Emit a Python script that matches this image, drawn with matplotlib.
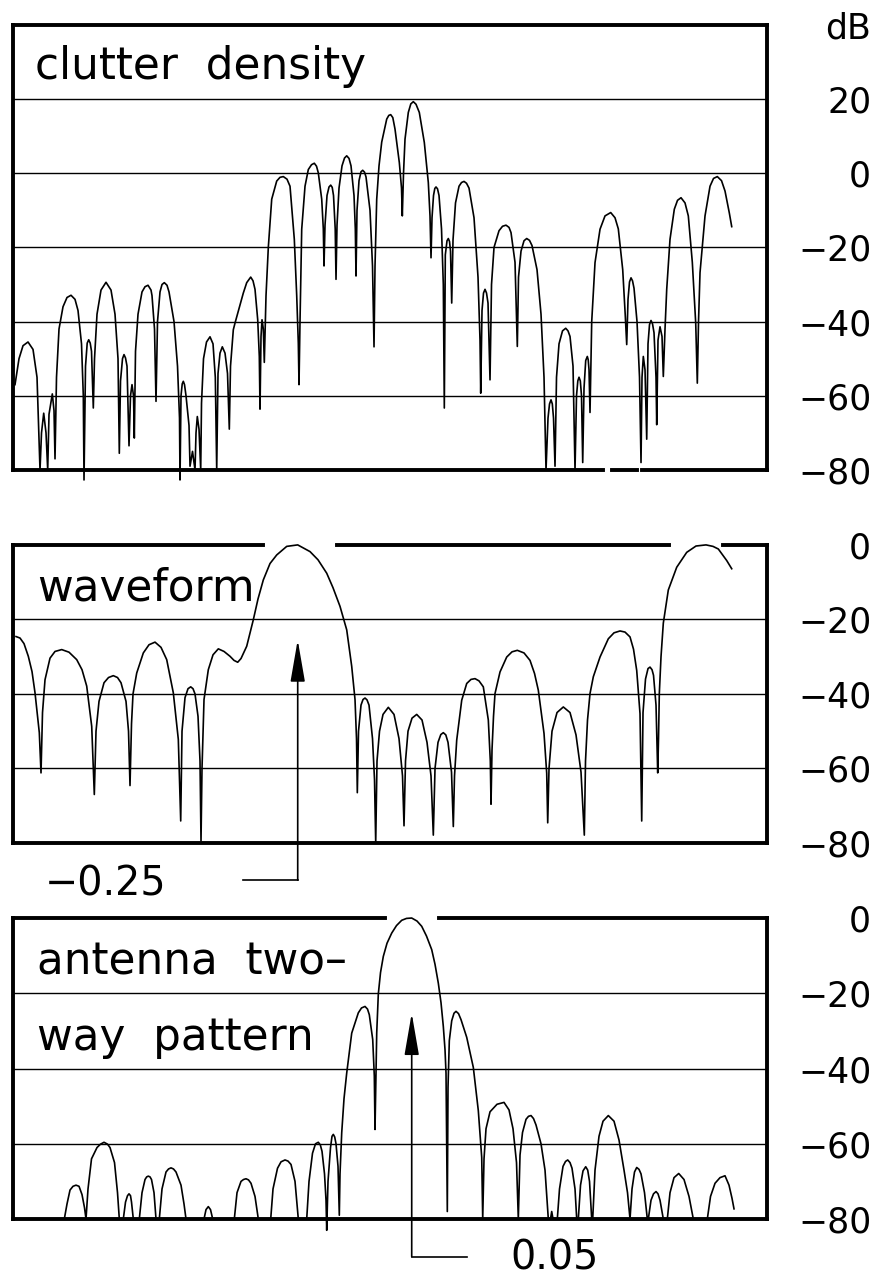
import matplotlib
matplotlib.use("Agg")
import matplotlib.pyplot as plt
import numpy as np

# traces: (doppler bin, dB)
clutter_trace = [
    (2, -57), (6, -50), (10, -46.5), (15, -45.5), (20, -47.5), (24, -55), (27, -80),
    (28.5, -70), (30.7, -64.7), (33, -70), (34.7, -80),
    (36, -65), (39.3, -59.5), (41, -64), (42, -77),
    (43.5, -55), (46, -42), (50, -36), (54, -33.5), (58, -32.9), (62, -34), (65, -37), (68.5, -46), (70.3, -60), (71, -82.7),
    (72.5, -52), (74.2, -45.8), (75.7, -44.9), (77.2, -45.8), (78.5, -48), (80.3, -63.3),
    (81.5, -50), (84, -38), (88, -31.5), (93, -29.4), (98, -31.5), (102, -38), (105, -50), (106.3, -75.5),
    (107.5, -56), (109.5, -50), (111, -48.9), (112.5, -49.8), (114, -52), (116, -73.5),
    (117.5, -60), (119, -57), (120.5, -60), (121.3, -71.4),
    (122.5, -48), (125, -38), (129, -32), (132, -30.6), (135, -30.2), (138, -31.5), (139, -33), (141.5, -42), (143, -61.5),
    (144.5, -40), (147, -32), (149, -30), (151.3, -29.5), (154, -30.2), (156, -32), (161, -40), (164.5, -52), (166.5, -66), (167, -82.7),
    (168, -60), (169.2, -56.8), (170.3, -56.1), (171.5, -57), (173, -60), (176, -68), (177, -79),
    (179.5, -75), (182, -80),
    (183, -70), (184.3, -65.6), (186, -69), (187.7, -80),
    (188.5, -62), (190.5, -50), (193.5, -45.5), (197, -44.1), (200, -46), (202.3, -55), (203.7, -80),
    (205, -54), (207, -48.5), (209.3, -46.8), (212, -48.5), (214.5, -54), (216.3, -69),
    (217.5, -52), (220.3, -42.2), (222, -40.4), (226, -36.5), (230.3, -32.3), (233.7, -29.5),
    (237.7, -28), (240, -29), (242, -31.3), (244.7, -39.5), (246.3, -49.4), (247, -63.6),
    (248, -44), (249, -39.5), (250.3, -42), (251.3, -51),
    (253, -33), (255.3, -20), (258.7, -7), (263.7, -2.1), (267, -1.1), (270.3, -0.9), (274, -1.6), (277, -3.5),
    (281.3, -17.8), (283.7, -33), (285.3, -45.8), (286, -57),
    (287, -40), (288.7, -15.1), (292, -3.5), (295.3, 1.0), (298.5, 2.3), (301.3, 2.7), (303.5, 1.9), (305.3, 0.1),
    (308.7, -7), (310.3, -15), (311, -25),
    (312, -14), (314, -6), (316, -3.7), (317.7, -3.2), (319.2, -3.8), (320.5, -6), (322.2, -15), (323, -28.6),
    (324, -14), (326, -4), (329, 2), (331.5, 4.1), (333.7, 4.7), (336, 4), (338, 2), (341, -6), (342.3, -15), (343, -27.7),
    (344, -10), (346, -2), (348, 0.4), (349.7, 0.8), (351.5, 0.3), (353, -1), (357, -10), (359.5, -25), (361, -46.8),
    (362, -25), (363.7, -7), (366, 2), (368.7, 8.4), (373.7, 14.6), (375.8, 15.6), (377.7, 15.8), (379.8, 15),
    (382, 11.9), (386.3, 2.9), (388.5, -4), (389.3, -11.5),
    (390.5, 0), (392, 9.2), (395.3, 16.4), (397.8, 18.7), (400.3, 19.3), (403, 18.6), (406.3, 16.4), (411.3, 8.3),
    (415.3, -2.5), (417, -11.5), (418, -22.8),
    (419, -12), (420.5, -6), (421.8, -4.1), (423, -3.7), (424.5, -4.2), (426, -6), (428.5, -15), (430.3, -30), (431.3, -63.3),
    (432.3, -22), (434, -18.2), (435.3, -17.6), (436.5, -18.4), (437.5, -21), (438.7, -35),
    (440, -18), (442.5, -8), (446, -3.5), (448.5, -2.5), (451, -2.2), (453.5, -2.7), (456, -4), (461, -12), (465, -28),
    (467, -45), (467.7, -59.3),
    (469, -37), (470.5, -32.3), (472, -31.3), (473.5, -32.3), (475, -35), (477, -55.7),
    (478.5, -30), (481, -20), (486, -15.5), (489.5, -14.3), (493, -14), (496, -14.6), (498, -16), (502, -24), (504.3, -46.7),
    (505.5, -28), (508, -21), (511, -18.2), (513.7, -17.6), (516.5, -18.1), (519, -19.5), (524, -26), (528, -38), (531, -55), (533, -80),
    (535, -66), (536.5, -62.2), (538, -61.1), (539.3, -62.2), (540.5, -66), (542, -79),
    (543.5, -55), (546, -46), (549.5, -42.5), (552.7, -41.8), (555, -42.5), (557, -44), (560, -52), (562, -80),
    (563.5, -60), (564.8, -56), (566, -55), (567.3, -56), (568.5, -60), (569.7, -78),
    (571, -58), (572.7, -50.5), (574.3, -49.4), (575.2, -50.3), (576, -53), (577, -64.5),
    (578.7, -40), (582, -24.1), (587, -15.1), (592, -11.5), (597.7, -10.6), (602, -12),
    (605.3, -15), (609.7, -26), (612.3, -38.6), (613.7, -46.2),
    (615, -34), (616.5, -29.3), (618, -28.2), (619.5, -29), (621, -31), (624, -40), (626.5, -55), (628, -78),
    (629, -55), (630.3, -49.4), (632, -53), (633.7, -71.7),
    (635, -46), (636.5, -40.8), (638, -39.7), (639.5, -40.6), (641, -43), (643, -55), (643.7, -67.8),
    (645, -45), (647, -41.4), (649, -44), (650.3, -54.8),
    (652, -42), (653.7, -31.3), (657, -17.8), (661.3, -9.7), (664.5, -7.3), (668, -6.6), (672, -8),
    (675.3, -11.5), (679.3, -24), (682.7, -40.4), (684.3, -56.6),
    (685.5, -40), (687, -26.8), (692, -11.5), (697, -3.5), (700.5, -1.4), (704.3, -0.9), (708.5, -2),
    (712, -4.8), (716.3, -10.7), (718.7, -14.4),
]

waveform_trace = [
    (3, -24.6), (7, -25), (11, -26.5), (15.3, -29.9), (19, -34), (22, -39.7), (26.3, -50.4), (28, -61.2),
    (29.5, -45), (32, -36.2), (37, -30.4), (42, -28.6), (48.7, -28.1), (56, -28.8), (63.7, -30.8),
    (69, -33.5), (73.7, -37.9), (78.7, -48.7), (81.3, -67),
    (83, -50), (86, -42), (91, -37), (95.5, -35.6), (100.3, -35.1), (104.5, -35.6), (108, -37), (113, -42), (115.5, -50), (117, -64.6),
    (118.5, -48), (120, -40), (123.7, -34.4), (130.3, -29), (136, -26.8), (142, -26.1), (148, -27.5),
    (153.7, -30.8), (160.3, -39.7), (165.3, -52.2), (167.7, -74.1),
    (169, -50), (172, -41), (175, -38.6), (177.7, -38.1), (180, -38.6), (182, -40), (185, -46), (187, -58), (188, -79.5),
    (189, -60), (191, -41.5), (195.3, -33.5), (200, -29.5), (205.3, -27.9), (211, -28.6), (217, -29.9),
    (221, -31), (224.7, -31.5),
    (228, -30.5), (233.7, -27.2), (240.3, -20.1), (245, -14.5), (250.3, -9.4), (257, -5), (263.7, -2.7),
    (273.7, -0.4), (284.7, 0), (297, -1.8), (305, -4), (313.7, -7.6), (320, -11.5), (327, -16.5),
    (333.7, -22.8), (338.7, -32.6), (342, -41.5), (343.5, -52), (344.3, -66.5),
    (345.5, -50), (348, -43), (350, -41.5), (352, -41.1), (354, -41.6), (356, -43), (359.5, -52), (361.5, -63), (362.7, -80),
    (364, -58), (366.5, -50), (370, -45.5), (375.3, -43.6), (381, -45.5), (386, -52), (389.5, -62), (391, -75.4),
    (392.5, -58), (395, -50), (399, -46.5), (403.7, -45.5), (409, -47), (414, -53), (418, -62), (420.3, -77.9),
    (422, -60), (425, -53), (427.8, -50.9), (430.3, -50.4), (432.8, -51), (435, -53), (438.5, -61), (440.3, -75.6),
    (441.5, -62), (443.7, -52.4), (448.7, -41.7), (453.7, -37.2), (458, -36.1), (462, -35.9), (466, -36.5),
    (470.3, -38.1), (475.3, -47), (477.3, -58), (478, -69.6),
    (479, -55), (480.5, -46), (482, -39.9), (487, -34.1), (493.7, -30.1), (499, -28.7), (504.3, -28.3), (511, -29),
    (517, -31), (521.5, -34.5), (525.3, -39), (531, -50.6), (533.7, -61.3), (534.7, -74.6),
    (536, -60), (539, -50), (544, -45), (550.3, -43.5), (557, -45), (563, -51), (568, -61), (571.3, -77.9),
    (572.5, -58), (574.5, -47), (577, -39.9), (580.3, -35.4), (587, -30.1), (595.3, -25.2), (601, -23.6),
    (607, -23.1), (612, -23.4), (617, -24.7), (620.5, -28), (623.7, -33.7), (627, -45.3), (628.7, -74.1),
    (630, -45), (632.5, -36), (635, -33.2), (637, -32.8), (639, -33.5), (640.5, -35), (643, -43), (644.7, -61.2),
    (645.5, -52), (646.3, -39.9), (648, -30), (650.3, -21), (655.3, -12.1), (663.7, -6), (673.7, -2),
    (683, -0.3), (693, 0), (700, -0.4), (705.3, -1.1), (713.7, -4.2), (718.7, -6.4),
]

antenna_trace = [
    (51.3, -80), (54, -76), (57, -72.3), (60, -71.3), (63, -71), (66, -71.3), (69, -73.5), (71.5, -77), (73, -80),
    (75, -72), (78.5, -64), (84, -61), (87.5, -60.1), (91, -59.6), (94.5, -60.1), (97, -61), (101.5, -65), (104.5, -73), (106.3, -80),
    (110.3, -80), (112.5, -75.5), (114.5, -73.8), (116, -73.3), (117.5, -73.8), (118.5, -75.5), (120.3, -80),
    (126.3, -80), (129, -73), (132, -69.5), (133.7, -68.8), (135.3, -68.6), (137, -68.8), (138.5, -69.5), (141, -73), (143, -80),
    (146.3, -80), (149, -72), (153, -67.5), (155.5, -66.7), (158, -66.4), (160.5, -66.7), (163, -67.5), (168, -71), (171, -76), (173, -80),
    (191, -80), (193, -77.5), (195.3, -76.7), (197.5, -77.5), (199.7, -80),
    (221.3, -80), (224, -73), (228, -70), (230.5, -69.5), (233, -69.3), (235.5, -69.6), (238, -70.5), (242, -74), (245.3, -80),
    (257.7, -80), (260, -72), (264.5, -66.5), (268, -64.8), (272, -64.3), (275, -64.6), (278, -65.5), (282, -70), (285.3, -80),
    (293.7, -80), (296, -70), (299.5, -62.5), (302.5, -60), (305.3, -59.6), (307.3, -60.3), (309, -62), (311.5, -68), (313, -75), (313.7, -83),
    (315, -70), (317.5, -61), (319, -58), (320.3, -57.5), (321.7, -58.2), (323, -60), (325, -66), (326.3, -79),
    (327, -68), (328.7, -57.1), (331, -48), (333.7, -41.2), (338.7, -30.6), (345.3, -25.2), (348.5, -23.9), (352, -23.5),
    (354.5, -24.2), (356.3, -25.7), (359.7, -32.3), (361.3, -42), (362, -56.2),
    (363.7, -30.6), (365.3, -20.2), (367.5, -14.5), (370.3, -10.2), (374, -6.7), (378.7, -4), (383.5, -2),
    (388.7, -0.6), (393.5, -0.1), (398.7, 0), (404, -0.8), (408.7, -2.2), (413.5, -4.8), (418.7, -8.4), (422, -12.3),
    (425.3, -17.3), (428, -22.5), (430.3, -28.8), (432, -35), (433, -41.2), (434.3, -78),
    (435, -45), (436.3, -32.6), (438.7, -27.3), (441, -25.3), (443, -24.8), (445.5, -25.4), (448, -27), (453.7, -31.7), (460.3, -39.7),
    (465.3, -51.2), (468.7, -63.6), (469.7, -80),
    (471, -64), (473, -56), (477, -51.5), (484, -49.5), (491, -49), (496, -51), (500, -56), (503.5, -65), (505.3, -80),
    (507, -63), (509.5, -57), (513, -53.5), (515.5, -52.7), (518, -52.5), (520.5, -53.3), (523, -55), (528, -60), (532, -67), (535.3, -80),
    (537.5, -80), (538.7, -78), (540, -80),
    (544.3, -80), (546.5, -72), (550, -66), (552.5, -64.7), (554.7, -64.3), (557, -65), (559, -66.5), (562, -72), (563.7, -80),
    (565.3, -80), (567.5, -71), (570, -67.2), (572.7, -66.1), (574.7, -67), (576.5, -70), (578.7, -80),
    (579.7, -80), (582, -67), (586, -58), (590, -54), (595.3, -52.5), (601, -54), (606, -59), (611, -67),
    (614.5, -73), (617, -80),
    (619, -72), (621.5, -67.5), (623.7, -66.3), (626, -66.8), (628, -68), (631.5, -73), (634.3, -80),
    (635.3, -80), (638, -75), (640.5, -73.3), (643, -72.7), (645, -73.3), (647, -75), (650.3, -80),
    (654.3, -80), (657, -73), (661, -69), (665.7, -67.9), (671, -69.5), (676, -74), (680.3, -80),
    (694.3, -80), (697.5, -74), (702, -70.5), (707, -69), (712, -68.5), (716, -71), (719, -74.5), (721, -77.3),
]

clutter_ticks = [40, 20, 0, -20, -40, -60, -80]
clutter_ticklabels = ["dB", "20", "0", "\u221220", "\u221240", "\u221260", "\u221280"]
pattern_ticks = [0, -20, -40, -60, -80]
pattern_ticklabels = ["0", "\u221220", "\u221240", "\u221260", "\u221280"]
clutter_grid = [20, 0, -20, -40, -60]
pattern_grid = [-20, -40, -60]

waveform_mark = "\u22120.25"
antenna_mark = "0.05"

plt.rcParams["font.family"] = ["DejaVu Sans"]

XMAX = 754
FRAME_LW = 2.8
LINE_LW = 1.2
LABEL_SIZE = 31.5


def setup_panel(ax, ymin, ymax, ticks, ticklabels, grid, top_segments, bottom_segments):
    ax.set_xlim(0, XMAX)
    ax.set_ylim(ymin, ymax)
    ax.set_xticks([])
    ax.set_yticks(ticks)
    ax.set_yticklabels(ticklabels)
    ax.yaxis.tick_right()
    ax.tick_params(axis="y", length=0, pad=75, labelsize=25)
    for label in ax.get_yticklabels():
        label.set_horizontalalignment("right")
    for side in ("left", "right"):
        ax.spines[side].set_linewidth(FRAME_LW)
    ax.spines["top"].set_visible(False)
    ax.spines["bottom"].set_visible(False)
    for x0, x1 in top_segments:
        ax.plot([x0, x1], [ymax, ymax], color="k", lw=FRAME_LW, clip_on=False,
                solid_capstyle="projecting", zorder=5)
    for x0, x1 in bottom_segments:
        ax.plot([x0, x1], [ymin, ymin], color="k", lw=FRAME_LW, clip_on=False,
                solid_capstyle="projecting", zorder=5)
    for g in grid:
        ax.axhline(g, color="k", lw=1.0, zorder=1)


def draw_trace(ax, trace):
    x, y = np.array(trace).T
    ax.plot(x, y, color="k", lw=LINE_LW, clip_on=False, solid_joinstyle="round", zorder=3)
    return x, y


def pointer(ax, x, tip, elbow_y, end_x):
    ax.annotate("", xy=(x, tip), xytext=(x, elbow_y),
                arrowprops=dict(arrowstyle="-|>,head_length=2.6,head_width=0.45",
                                color="k", lw=LINE_LW, shrinkA=0, shrinkB=0),
                annotation_clip=False)
    ax.plot([x, end_x], [elbow_y, elbow_y], color="k", lw=LINE_LW, clip_on=False)


fig = plt.figure(figsize=(8.79, 12.77), dpi=100)
ax1 = fig.add_axes([0.0148, 0.6320, 0.8578, 0.3485])
ax2 = fig.add_axes([0.0148, 0.3399, 0.8578, 0.2334])
ax3 = fig.add_axes([0.0148, 0.0454, 0.8578, 0.2357])

setup_panel(ax1, -80, 40, clutter_ticks, clutter_ticklabels, clutter_grid,
            [(0, XMAX)], [(0, 590), (599, 624), (629, XMAX)])
setup_panel(ax2, -80, 0, pattern_ticks, pattern_ticklabels, pattern_grid,
            [(0, 250), (324, 656), (710, XMAX)], [(0, XMAX)])
setup_panel(ax3, -80, 0, pattern_ticks, pattern_ticklabels, pattern_grid,
            [(0, 372), (426, XMAX)], [(0, XMAX)])

draw_trace(ax1, clutter_trace)
wx, wy = draw_trace(ax2, waveform_trace)
antx, anty = draw_trace(ax3, antenna_trace)

ax1.text(22, 25.3, "clutter  density", fontsize=LABEL_SIZE, ha="left", va="baseline")
ax2.text(24, -14.8, "waveform", fontsize=LABEL_SIZE, ha="left", va="baseline")
ax3.text(24, -14.9, "antenna  two\u2013", fontsize=LABEL_SIZE, ha="left", va="baseline")
ax3.text(24, -35.1, "way  pattern", fontsize=LABEL_SIZE, ha="left", va="baseline")

pointer(ax2, wx[np.argmax(wy)], -25.5, -90, 230)
ax2.text(32, -94.0, waveform_mark, fontsize=28.5, ha="left", va="baseline")

pointer(ax3, antx[np.argmax(anty)], -25.3, -90, 453.7)
ax3.text(497, -93.4, antenna_mark, fontsize=28.5, ha="left", va="baseline")

fig.savefig("out.png", dpi=100, facecolor="white")
